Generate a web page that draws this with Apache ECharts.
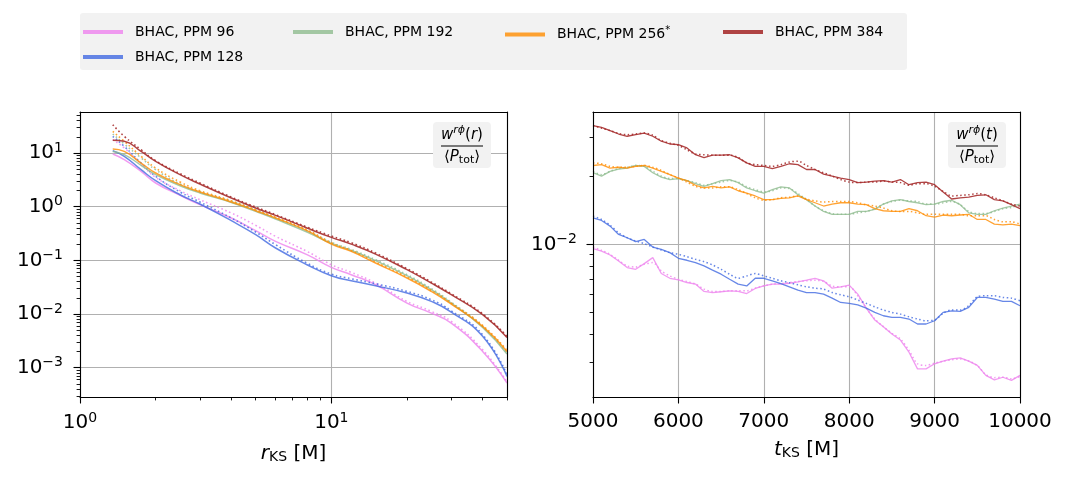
<!DOCTYPE html>
<html>
<head>
<meta charset="utf-8">
<script src="https://cdn.jsdelivr.net/npm/echarts@6/dist/echarts.min.js"></script>
<style>
html, body { margin: 0; padding: 0; background: #fff; }
#main { width: 1069px; height: 481px; }
</style>
</head>
<body>
<div id="main"></div>
<script>
var names = ['BHAC, PPM 96', 'BHAC, PPM 128', 'BHAC, PPM 192', 'BHAC, PPM 256*', 'BHAC, PPM 384'];
var colors = ['rgba(238,130,238,0.8)', 'rgba(65,105,225,0.8)', 'rgba(143,188,143,0.8)', 'rgba(255,140,0,0.8)', 'rgba(165,42,42,0.88)'];

// left panel: radial profile
var rKS = [1.35, 1.5, 1.75, 2, 2.5, 3, 4, 5, 6, 8, 10, 12, 15, 20, 25, 30, 40, 50];
var rad96   = [9.58, 7.52, 4.55, 2.76, 1.63, 1.09, 0.615, 0.357, 0.226, 0.128, 0.0741, 0.0541, 0.0352, 0.0160, 0.0104, 0.0068, 0.00201, 0.00052];
var rad96d  = [17.7, 12.4, 6.24, 3.52, 1.99, 1.35, 0.762, 0.449, 0.280, 0.147, 0.0830, 0.0597, 0.0378, 0.0172, 0.0112, 0.0073, 0.00216, 0.00054];
var rad128  = [11.0, 8.67, 4.89, 3.05, 1.67, 1.12, 0.548, 0.301, 0.170, 0.0830, 0.0518, 0.0418, 0.0337, 0.0246, 0.0172, 0.0109, 0.00384, 0.00069];
var rad128d = [20.4, 13.3, 6.5, 3.67, 1.88, 1.22, 0.615, 0.337, 0.196, 0.0891, 0.0556, 0.0455, 0.0367, 0.0264, 0.0185, 0.0115, 0.00412, 0.00074];
var rad192  = [10.7, 9.3, 5.9, 3.94, 2.46, 1.80, 1.20, 0.818, 0.589, 0.337, 0.207, 0.153, 0.0986, 0.0518, 0.0284, 0.0160, 0.00565, 0.0018];
var rad192d = [22.6, 14.7, 8.1, 4.89, 2.64, 1.90, 1.27, 0.87, 0.615, 0.357, 0.216, 0.160, 0.103, 0.0541, 0.0297, 0.0167, 0.0059, 0.00187];
var rad256  = [11.9, 10.7, 6.5, 4.24, 2.57, 1.88, 1.22, 0.842, 0.615, 0.357, 0.201, 0.147, 0.0891, 0.0469, 0.0264, 0.0153, 0.00589, 0.00201];
var rad256d = [25.3, 16.5, 8.7, 5.25, 2.88, 1.99, 1.29, 0.879, 0.641, 0.373, 0.213, 0.153, 0.0931, 0.0489, 0.0276, 0.0160, 0.00615, 0.0021];
var rad384  = [17.2, 16.5, 10.7, 7.0, 3.95, 2.64, 1.45, 0.944, 0.690, 0.400, 0.268, 0.201, 0.131, 0.067, 0.0378, 0.0229, 0.00972, 0.00367];
var rad384d = [33.7, 20.4, 11.5, 7.2, 4.12, 2.76, 1.51, 0.986, 0.710, 0.418, 0.284, 0.213, 0.137, 0.070, 0.0394, 0.0239, 0.0101, 0.00384];

// right panel: time series
var tKS = [5000, 5100, 5200, 5300, 5400, 5500, 5600, 5700, 5800, 5900,
           6000, 6100, 6200, 6300, 6400, 6500, 6600, 6700, 6800, 6900,
           7000, 7100, 7200, 7300, 7400, 7500, 7600, 7700, 7800, 7900,
           8000, 8100, 8200, 8300, 8400, 8500, 8600, 8700, 8800, 8900,
           9000, 9100, 9200, 9300, 9400, 9500, 9600, 9700, 9800, 9900, 10000];
var tim96   = [0.00957, 0.00934, 0.00897, 0.00844, 0.00789, 0.00775, 0.00821, 0.00873, 0.00742, 0.00707,
               0.00696, 0.00677, 0.00666, 0.00618, 0.00611, 0.00616, 0.00622, 0.00618, 0.00605, 0.00637,
               0.00654, 0.00666, 0.00666, 0.00672, 0.00681, 0.00693, 0.00707, 0.00689, 0.00639, 0.00648,
               0.00659, 0.00601, 0.00521, 0.00461, 0.00431, 0.00400, 0.00376, 0.00332, 0.00280, 0.00280,
               0.00295, 0.00303, 0.00310, 0.00313, 0.00303, 0.00290, 0.00262, 0.00250, 0.00257, 0.00249, 0.00262];
var tim96d  = [0.00973, 0.00941, 0.00903, 0.00850, 0.00802, 0.00794, 0.00816, 0.00830, 0.00762, 0.00724,
               0.00700, 0.00684, 0.00666, 0.00633, 0.00618, 0.00618, 0.00622, 0.00622, 0.00622, 0.00639,
               0.00654, 0.00666, 0.00670, 0.00677, 0.00684, 0.00689, 0.00693, 0.00684, 0.00654, 0.00648,
               0.00648, 0.00591, 0.00521, 0.00466, 0.00431, 0.00403, 0.00380, 0.00338, 0.00295, 0.00290,
               0.00297, 0.00303, 0.00307, 0.00310, 0.00303, 0.00290, 0.00264, 0.00256, 0.00257, 0.00253, 0.00259];
var tim128  = [0.01312, 0.01277, 0.01205, 0.01107, 0.01070, 0.01028, 0.01052, 0.00973, 0.00950, 0.00919,
               0.00867, 0.00850, 0.00830, 0.00802, 0.00768, 0.00737, 0.00700, 0.00666, 0.00654, 0.00707,
               0.00707, 0.00689, 0.00670, 0.00648, 0.00626, 0.00611, 0.00611, 0.00601, 0.00577, 0.00552,
               0.00547, 0.00539, 0.00521, 0.00499, 0.00482, 0.00474, 0.00474, 0.00466, 0.00443, 0.00443,
               0.00458, 0.00499, 0.00507, 0.00504, 0.00525, 0.00581, 0.00581, 0.00571, 0.00558, 0.00558, 0.00534];
var tim128d = [0.01335, 0.01290, 0.01217, 0.01126, 0.01070, 0.01035, 0.01007, 0.00973, 0.00944, 0.00919,
               0.00903, 0.00882, 0.00858, 0.00838, 0.00810, 0.00775, 0.00737, 0.00707, 0.00724, 0.00742,
               0.00724, 0.00707, 0.00689, 0.00675, 0.00661, 0.00648, 0.00639, 0.00633, 0.00611, 0.00597,
               0.00585, 0.00566, 0.00547, 0.00528, 0.00511, 0.00499, 0.00490, 0.00477, 0.00466, 0.00458,
               0.00461, 0.00494, 0.00511, 0.00511, 0.00534, 0.00585, 0.00591, 0.00591, 0.00581, 0.00577, 0.00562];
var tim192  = [0.0208, 0.0201, 0.0211, 0.0216, 0.0218, 0.0224, 0.0222, 0.0208, 0.0199, 0.0194,
               0.0196, 0.0192, 0.0186, 0.0181, 0.0186, 0.0192, 0.0194, 0.0188, 0.0178, 0.0173,
               0.0169, 0.0175, 0.0180, 0.0178, 0.0166, 0.0158, 0.0148, 0.0140, 0.0136, 0.0136,
               0.0136, 0.0140, 0.0140, 0.0143, 0.0151, 0.0156, 0.0158, 0.0155, 0.0153, 0.0150,
               0.0151, 0.0155, 0.0157, 0.0150, 0.0138, 0.0136, 0.0136, 0.0141, 0.0145, 0.0148, 0.0151];
var tim192d = [0.0211, 0.0204, 0.0211, 0.0217, 0.0220, 0.0224, 0.0222, 0.0211, 0.0201, 0.0196,
               0.0196, 0.0192, 0.0188, 0.0183, 0.0186, 0.0189, 0.0192, 0.0189, 0.0180, 0.0175,
               0.0171, 0.0173, 0.0178, 0.0177, 0.0168, 0.0158, 0.0148, 0.0141, 0.0137, 0.0136,
               0.0136, 0.0138, 0.0140, 0.0144, 0.0151, 0.0155, 0.0157, 0.0156, 0.0155, 0.0151,
               0.0151, 0.0153, 0.0155, 0.0150, 0.0140, 0.0137, 0.0137, 0.0140, 0.0144, 0.0146, 0.0150];
var tim256  = [0.0224, 0.0226, 0.0218, 0.0220, 0.0218, 0.0222, 0.0224, 0.0218, 0.0211, 0.0204,
               0.0197, 0.0192, 0.0183, 0.0178, 0.0181, 0.0178, 0.0180, 0.0173, 0.0169, 0.0164,
               0.0158, 0.0158, 0.0160, 0.0161, 0.0164, 0.0158, 0.0153, 0.0148, 0.0151, 0.0153,
               0.0153, 0.0151, 0.0150, 0.0144, 0.0141, 0.0140, 0.0140, 0.0144, 0.0141, 0.0134,
               0.0132, 0.0135, 0.0134, 0.0135, 0.0136, 0.0129, 0.0129, 0.0123, 0.0122, 0.0123, 0.0121];
var tim256d = [0.0230, 0.0228, 0.0222, 0.0220, 0.0220, 0.0222, 0.0224, 0.0220, 0.0213, 0.0204,
               0.0197, 0.0189, 0.0181, 0.0178, 0.0178, 0.0180, 0.0180, 0.0175, 0.0168, 0.0161,
               0.0157, 0.0158, 0.0161, 0.0162, 0.0164, 0.0159, 0.0156, 0.0154, 0.0155, 0.0155,
               0.0155, 0.0153, 0.0150, 0.0148, 0.0145, 0.0141, 0.0140, 0.0140, 0.0138, 0.0136,
               0.0136, 0.0136, 0.0136, 0.0136, 0.0134, 0.0134, 0.0134, 0.0129, 0.0126, 0.0126, 0.0123];
var tim384  = [0.0337, 0.0331, 0.0320, 0.0309, 0.0302, 0.0307, 0.0312, 0.0302, 0.0287, 0.0279,
               0.0277, 0.0268, 0.0250, 0.0243, 0.0249, 0.0249, 0.0250, 0.0242, 0.0230, 0.0222,
               0.0222, 0.0217, 0.0222, 0.0228, 0.0226, 0.0215, 0.0215, 0.0205, 0.0201, 0.0197,
               0.0194, 0.0188, 0.0189, 0.0191, 0.0192, 0.0189, 0.0194, 0.0184, 0.0188, 0.0189,
               0.0184, 0.0171, 0.0159, 0.0161, 0.0162, 0.0165, 0.0166, 0.0158, 0.0156, 0.0150, 0.0144];
var tim384d = [0.0337, 0.0328, 0.0320, 0.0311, 0.0307, 0.0309, 0.0312, 0.0305, 0.0289, 0.0281,
               0.0275, 0.0263, 0.0252, 0.0250, 0.0249, 0.0249, 0.0249, 0.0243, 0.0230, 0.0226,
               0.0224, 0.0222, 0.0226, 0.0232, 0.0234, 0.0224, 0.0215, 0.0208, 0.0201, 0.0194,
               0.0189, 0.0188, 0.0189, 0.0189, 0.0191, 0.0189, 0.0188, 0.0183, 0.0186, 0.0186,
               0.0181, 0.0172, 0.0164, 0.0165, 0.0166, 0.0168, 0.0166, 0.0161, 0.0156, 0.0151, 0.0148];

var radSolid = [rad96, rad128, rad192, rad256, rad384];
var radDot = [rad96d, rad128d, rad192d, rad256d, rad384d];
var timSolid = [tim96, tim128, tim192, tim256, tim384];
var timDot = [tim96d, tim128d, tim192d, tim256d, tim384d];

// axis extents
var L_XMIN = 1, L_XMAX = 50, L_YMIN = 2.85e-4, L_YMAX = 58;
var R_YMIN = 0.0021, R_YMAX = 0.0387;

function pairs(xs, ys) {
    return xs.map(function (x, i) { return [x, ys[i]]; });
}
function minorLogs(lo, hi) {
    var out = [];
    for (var e = -5; e <= 2; e++) {
        for (var k = 2; k <= 9; k++) {
            var v = k * Math.pow(10, e);
            if (v >= lo * 0.9999 && v <= hi * 1.0001) out.push(Math.log10(v));
        }
    }
    return out;
}

var FONT = 'DejaVu Sans';
var supRich = {
    b: { fontSize: 20, fontFamily: FONT, color: '#000' },
    s: { fontSize: 14, fontFamily: FONT, color: '#000', padding: [0, 0, 10, 0] }
};
function powLabel(v) {
    var n = Math.round(v);
    return '{b|10}{s|' + (n < 0 ? '\u2212' + (-n) : n) + '}';
}
var nameRich = {
    i: { fontSize: 20, fontStyle: 'italic', fontFamily: FONT, color: '#000' },
    sub: { fontSize: 14, fontFamily: FONT, color: '#000', padding: [6, 0, 0, 0] },
    n: { fontSize: 20, fontFamily: FONT, color: '#000' }
};

var gridLine = { show: true, lineStyle: { color: '#b0b0b0', width: 1.1 } };
var spine = { show: true, onZero: false, lineStyle: { color: '#000', width: 1.1 } };
var off = { show: false, onZero: false };
var majorTick = { color: '#000', width: 1.1 };
var minorTick = { color: '#000', width: 0.9 };

var xAxes = [
    // left panel
    { gridIndex: 0, type: 'log', logBase: 10, min: L_XMIN, max: L_XMAX, axisLine: off, axisTick: off, axisLabel: off, splitLine: gridLine, z: 0 },
    { gridIndex: 0, type: 'value', position: 'bottom', min: 0, max: Math.log10(L_XMAX), z: 5,
      axisLine: spine, splitLine: off,
      axisTick: { show: true, length: 6.5, customValues: [0, 1], lineStyle: majorTick },
      axisLabel: { show: true, customValues: [0, 1], margin: 14, formatter: powLabel, rich: supRich },
      name: '{i|r}{sub|KS}{n| [M]}', nameLocation: 'middle', nameGap: 47,
      nameTextStyle: { rich: nameRich } },
    { gridIndex: 0, type: 'value', position: 'bottom', min: 0, max: Math.log10(L_XMAX), z: 5,
      axisLine: off, splitLine: off, axisLabel: off,
      axisTick: { show: true, length: 3.4, customValues: minorLogs(L_XMIN, L_XMAX), lineStyle: minorTick } },
    { gridIndex: 0, type: 'value', position: 'top', min: 0, max: 1, z: 5, axisLine: spine, axisTick: off, axisLabel: off, splitLine: off },
    // right panel
    { gridIndex: 1, type: 'value', min: 5000, max: 10000, interval: 1000, axisLine: off, axisTick: off, axisLabel: off, splitLine: gridLine, z: 0 },
    { gridIndex: 1, type: 'value', position: 'bottom', min: 5000, max: 10000, interval: 1000, z: 5,
      axisLine: spine, splitLine: off,
      axisTick: { show: true, length: 6.5, lineStyle: majorTick },
      axisLabel: { show: true, margin: 15, fontSize: 20, color: '#000', fontFamily: FONT,
                   formatter: function (v) { return String(v); } },
      name: '{i|t}{sub|KS}{n| [M]}', nameLocation: 'middle', nameGap: 43,
      nameTextStyle: { rich: nameRich } },
    { gridIndex: 1, type: 'value', position: 'top', min: 0, max: 1, z: 5, axisLine: spine, axisTick: off, axisLabel: off, splitLine: off }
];

var yAxes = [
    // left panel
    { gridIndex: 0, type: 'log', logBase: 10, min: L_YMIN, max: L_YMAX, axisLine: off, axisTick: off, axisLabel: off, splitLine: gridLine, z: 0 },
    { gridIndex: 0, type: 'value', position: 'left', min: Math.log10(L_YMIN), max: Math.log10(L_YMAX), z: 5,
      axisLine: spine, splitLine: off,
      axisTick: { show: true, length: 6.5, customValues: [-3, -2, -1, 0, 1], lineStyle: majorTick },
      axisLabel: { show: true, customValues: [-3, -2, -1, 0, 1], margin: 17, formatter: powLabel, rich: supRich } },
    { gridIndex: 0, type: 'value', position: 'left', min: Math.log10(L_YMIN), max: Math.log10(L_YMAX), z: 5,
      axisLine: off, splitLine: off, axisLabel: off,
      axisTick: { show: true, length: 3.4, customValues: minorLogs(L_YMIN, L_YMAX), lineStyle: minorTick } },
    { gridIndex: 0, type: 'value', position: 'right', min: 0, max: 1, z: 5, axisLine: spine, axisTick: off, axisLabel: off, splitLine: off },
    // right panel
    { gridIndex: 1, type: 'log', logBase: 10, min: R_YMIN, max: R_YMAX, axisLine: off, axisTick: off, axisLabel: off, splitLine: gridLine, z: 0 },
    { gridIndex: 1, type: 'value', position: 'left', min: Math.log10(R_YMIN), max: Math.log10(R_YMAX), z: 5,
      axisLine: spine, splitLine: off,
      axisTick: { show: true, length: 6.5, customValues: [-2], lineStyle: majorTick },
      axisLabel: { show: true, customValues: [-2], margin: 16, formatter: powLabel, rich: supRich } },
    { gridIndex: 1, type: 'value', position: 'left', min: Math.log10(R_YMIN), max: Math.log10(R_YMAX), z: 5,
      axisLine: off, splitLine: off, axisLabel: off,
      axisTick: { show: true, length: 3.4, customValues: minorLogs(R_YMIN, R_YMAX), lineStyle: minorTick } },
    { gridIndex: 1, type: 'value', position: 'right', min: 0, max: 1, z: 5, axisLine: spine, axisTick: off, axisLabel: off, splitLine: off }
];

var series = [];
for (var i = 0; i < 5; i++) {
    series.push({ name: names[i], type: 'line', xAxisIndex: 0, yAxisIndex: 0, data: pairs(rKS, radSolid[i]),
        smooth: true, symbol: 'none', itemStyle: { color: colors[i] }, lineStyle: { color: colors[i], width: 1.5 } });
    series.push({ name: names[i] + ' (dotted)', type: 'line', xAxisIndex: 0, yAxisIndex: 0, data: pairs(rKS, radDot[i]),
        smooth: true, symbol: 'none', itemStyle: { color: colors[i] }, lineStyle: { color: colors[i], width: 1.6, type: [1.6, 2.6] } });
    series.push({ name: names[i], type: 'line', xAxisIndex: 4, yAxisIndex: 4, data: pairs(tKS, timSolid[i]),
        symbol: 'none', itemStyle: { color: colors[i] }, lineStyle: { color: colors[i], width: 1.3 } });
    series.push({ name: names[i] + ' (dotted)', type: 'line', xAxisIndex: 4, yAxisIndex: 4, data: pairs(tKS, timDot[i]),
        smooth: 0.3, symbol: 'none', itemStyle: { color: colors[i] }, lineStyle: { color: colors[i], width: 1.5, type: [1.5, 2.5] } });
}

// legend laid out like matplotlib's column-major ncol=4 box
var legendSpots = [[83, 25], [83, 50], [293, 25], [505, 25], [723, 25]];
var legends = names.map(function (n, k) {
    return {
        data: [n], left: legendSpots[k][0], top: legendSpots[k][1], padding: 0,
        icon: 'rect', itemWidth: 40, itemHeight: 4, selectedMode: false,
        formatter: function (name) { return name.replace('*', '{sup|*}'); },
        textStyle: { fontSize: 14, color: '#000', fontFamily: FONT, padding: [0, 0, 0, 7],
            rich: { sup: { fontSize: 10, fontFamily: FONT, color: '#000', padding: [0, 0, 9, 0] } } }
    };
});

var fracRich = {
    i: { fontSize: 15, fontStyle: 'italic', fontFamily: FONT, color: '#000' },
    sp: { fontSize: 11, fontStyle: 'italic', fontFamily: FONT, color: '#000', padding: [0, 0, 9, 0] },
    sb: { fontSize: 11, fontFamily: FONT, color: '#000', padding: [7, 0, 0, 0] },
    n: { fontSize: 15, fontFamily: FONT, color: '#000' }
};
function fracBox(cx, arg) {
    return [
        { type: 'rect', shape: { x: cx - 29, y: 122, width: 58, height: 46, r: 4 }, style: { fill: '#f2f2f2' }, z: 10 },
        { type: 'text', x: cx, y: 135, z: 11,
          style: { text: '{i|w}{sp|r\u03d5}{n|(}{i|' + arg + '}{n|)}', rich: fracRich, align: 'center', verticalAlign: 'middle' } },
        { type: 'line', shape: { x1: cx - 21, y1: 146, x2: cx + 21, y2: 146 }, style: { stroke: '#000', lineWidth: 1 }, z: 11 },
        { type: 'text', x: cx, y: 157, z: 11,
          style: { text: '{n|\u27e8}{i|P}{sb|tot}{n|\u27e9}', rich: fracRich, align: 'center', verticalAlign: 'middle' } }
    ];
}

var graphics = [
    { type: 'rect', shape: { x: 80, y: 13, width: 827, height: 57, r: 3 }, style: { fill: '#f2f2f2' }, z: 0 }
].concat(fracBox(462, 'r'), fracBox(977, 't'));

echarts.init(document.getElementById('main')).setOption({
    animation: false,
    backgroundColor: '#fff',
    textStyle: { fontFamily: FONT },
    grid: [
        { left: 80, top: 112, width: 427, height: 285 },
        { left: 593, top: 112, width: 427, height: 285 }
    ],
    legend: legends,
    xAxis: xAxes,
    yAxis: yAxes,
    series: series,
    graphic: graphics
});
</script>
</body>
</html>
